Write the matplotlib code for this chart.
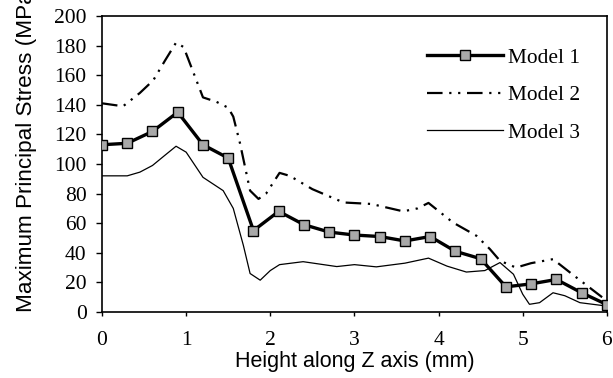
import numpy as np
import matplotlib
matplotlib.use("Agg")
import matplotlib.pyplot as plt

# ---------------------------------------------------------------------------
# Data
# ---------------------------------------------------------------------------
x_model1 = [0, 0.3, 0.6, 0.9, 1.2, 1.5, 1.8, 2.1, 2.4, 2.7, 3.0,
            3.3, 3.6, 3.9, 4.2, 4.5, 4.8, 5.1, 5.4, 5.7, 6.0]
y_model1 = [113, 114, 122, 135, 113, 104, 55, 68, 59, 54, 52,
            51, 48, 51, 41, 36, 17, 19, 22, 13, 5]

x_model2 = [0, 0.25, 0.45, 0.61, 0.75, 0.88, 0.97, 1.2, 1.36, 1.5, 1.56,
            1.64, 1.76, 1.86, 1.95, 2.11, 2.23, 2.5, 2.87, 3.2, 3.58, 3.75,
            3.88, 4.17, 4.45, 4.61, 4.73, 4.92, 5.1, 5.36, 5.6, 5.95]
y_model2 = [141, 139, 148, 156.6, 170, 182, 179, 145, 142, 138, 132,
            114, 82, 76.4, 80, 94, 92, 83, 74, 73, 68, 70,
            73.7, 60.5, 51.5, 42.5, 34.6, 30, 33, 35.7, 25, 9.7]

x_model3 = [0, 0.3, 0.45, 0.6, 0.75, 0.88, 1.0, 1.2, 1.44, 1.56, 1.68,
            1.76, 1.88, 2.0, 2.11, 2.39, 2.79, 3.0, 3.26, 3.6, 3.88, 4.1,
            4.33, 4.55, 4.73, 4.89, 5.0, 5.08, 5.2, 5.36, 5.5, 5.68, 6.0]
y_model3 = [92, 92, 94.5, 99, 106, 112, 108, 91, 82, 70, 45,
            26, 21.5, 28, 32, 34, 30.7, 32, 30.5, 33, 36.4, 31,
            27, 28, 33.4, 25.5, 12, 5.2, 6.3, 13, 11, 6.3, 4]

labels = ["Model 1", "Model 2", "Model 3"]
x_ticks = [0, 1, 2, 3, 4, 5, 6]
y_ticks = [0, 20, 40, 60, 80, 100, 120, 140, 160, 180, 200]

serif = "Liberation Serif"
sans = "Liberation Sans"

fig = plt.figure(figsize=(6.13, 3.78), dpi=100)
ax = fig.add_axes([0.1664, 0.1746, 0.8236, 0.7831])

ax.plot(x_model1, y_model1, color="black", linewidth=2.4, marker="s",
        markersize=6.5, markerfacecolor="#a8a8a8", markeredgecolor="black",
        markeredgewidth=1.0, label=labels[0], zorder=3)
ax.plot(x_model2, y_model2, color="black", linewidth=1.6,
        dashes=[7, 3, 1, 3, 1, 3], label=labels[1], zorder=2)
ax.plot(x_model3, y_model3, color="black", linewidth=0.9,
        label=labels[2], zorder=2)

ax.set_xlim(0, 6)
ax.set_ylim(0, 200)
ax.set_xticks(x_ticks)
ax.set_yticks(y_ticks)
ax.tick_params(axis="y", direction="out", length=4, width=1, pad=7)
ax.tick_params(axis="x", direction="out", length=3, width=1, pad=11)
for lbl in ax.get_xticklabels() + ax.get_yticklabels():
    lbl.set_fontfamily(serif)
    lbl.set_fontsize(15.5)
for s in ax.spines.values():
    s.set_linewidth(1.2)

fig.text(0.5 * (102 + 607) / 613, 1 - 361 / 378, "Height along Z axis (mm)",
         family=sans, fontsize=15.5, ha="center", va="center")
fig.text(27 / 613, 1 - 312 / 378, "Maximum Principal Stress (MPa)",
         family=sans, fontsize=16.2, rotation=90, ha="center", va="bottom")

leg = ax.legend(loc="upper left", bbox_to_anchor=(0.6436, 0.892),
                frameon=False, prop={"family": serif, "size": 15.4},
                handlelength=3.55, handletextpad=0.25, labelspacing=0.82,
                numpoints=1, borderaxespad=0, borderpad=0)

fig.savefig("out.png", dpi=100)
